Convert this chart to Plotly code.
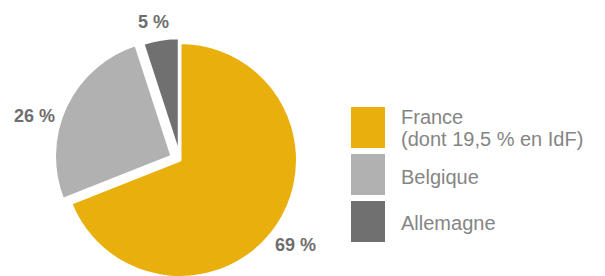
import plotly.graph_objects as go

# Data
labels = ["France", "Belgique", "Allemagne"]
legend_lines = [["France", "(dont 19,5 % en IdF)"], ["Belgique"], ["Allemagne"]]
values = [69, 26, 5]
colors = ["#E9AF0C", "#B2B1B1", "#707070"]
pulls = [0, 0.075, 0.04]

# page body has an 8px margin; figure is sized so it fills the window
OFF = 8
W, H = 597, 300


def sx(x):  # screen x -> paper
    return (x - OFF) / W


def sy(y):  # screen y -> paper
    return 1 - (y - OFF) / H


cx, cy, R = 180, 160, 117.5
half = R * (1 + max(pulls))

fig = go.Figure()
fig.add_trace(go.Pie(
    labels=labels,
    values=values,
    sort=False,
    direction="clockwise",
    rotation=0,
    pull=pulls,
    marker=dict(colors=colors, line=dict(color="white", width=3)),
    textinfo="none",
    domain=dict(x=[sx(cx - half), sx(cx + half)], y=[sy(cy + half), sy(cy - half)]),
    showlegend=False,
    hoverinfo="label+percent",
))

annotations = []
# value labels placed outside the slices
label_pos = [(295.5, 245), (34.5, 115.5), (153.5, 22)]
for v, (lx, ly) in zip(values, label_pos):
    annotations.append(dict(text=f"{v} %", xref="paper", yref="paper", x=sx(lx), y=sy(ly),
                            xanchor="center", yanchor="middle", showarrow=False,
                            font=dict(family="Liberation Sans", size=18, color="#6E6E6E", weight="bold")))

# Custom legend (large swatches)
sw_top = [107, 154, 201]
sw_h = 41
shapes = []
for i, lab in enumerate(labels):
    shapes.append(dict(type="rect", xref="paper", yref="paper",
                       x0=sx(351), x1=sx(385), y0=sy(sw_top[i] + sw_h), y1=sy(sw_top[i]),
                       fillcolor=colors[i], line=dict(width=0)))
line_y = [[116, 137.5], [175.5], [221.5]]
for i, lines in enumerate(legend_lines):
    for j, t in enumerate(lines):
        annotations.append(dict(text=t, xref="paper", yref="paper", x=sx(399), y=sy(line_y[i][j] + 1),
                                xanchor="left", yanchor="middle", showarrow=False,
                                font=dict(family="Liberation Sans", size=20, color="#858585")))

fig.update_layout(
    width=W, height=H,
    margin=dict(l=0, r=0, t=0, b=0, autoexpand=False),
    paper_bgcolor="white", plot_bgcolor="white",
    shapes=shapes, annotations=annotations,
)
fig.write_html("out.html")
